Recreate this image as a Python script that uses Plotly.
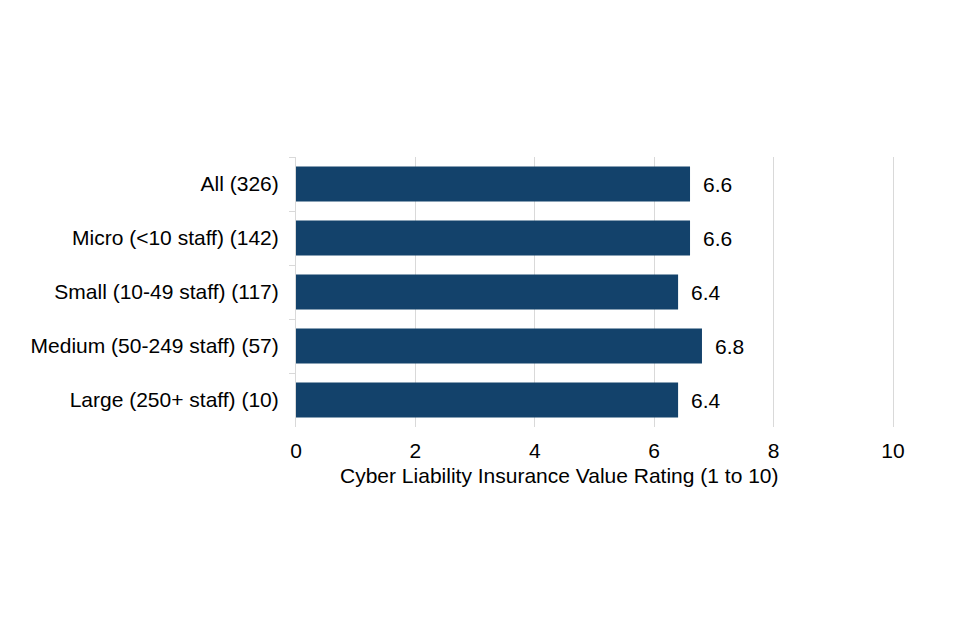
import plotly.graph_objects as go

categories = ["All (326)", "Micro (<10 staff) (142)", "Small (10-49 staff) (117)",
              "Medium (50-249 staff) (57)", "Large (250+ staff) (10)"]
values = [6.6, 6.6, 6.4, 6.8, 6.4]
x_ticks = [0, 2, 4, 6, 8, 10]
x_title = "Cyber Liability Insurance Value Rating (1 to 10)"

FONT = "Liberation Sans, Arial, sans-serif"
FS = 21

W, H = 952, 632
L, T, B = 288, 149, 213
X_MAX = 10.05
PW = 600
R = W - L - PW
PH = H - T - B

fig = go.Figure(go.Bar(
    y=categories, x=values, orientation="h",
    marker=dict(color="#13426B", line=dict(width=0)),
    hoverinfo="x+y",
))

for c, v in zip(categories, values):
    fig.add_annotation(x=v, y=c, xref="x", yref="y", text=f"{v:.1f}",
                       showarrow=False, xanchor="left", yanchor="middle",
                       xshift=11, font=dict(size=FS, color="#000000", family=FONT))

fig.add_annotation(x=(551 - L) / PW, y=-48 / PH, xref="paper", yref="paper", text=x_title,
                   showarrow=False, xanchor="center", yanchor="middle",
                   font=dict(size=FS, color="#000000", family=FONT))

fig.update_layout(
    width=W, height=H,
    margin=dict(l=L, r=R, t=T, b=B, autoexpand=False),
    paper_bgcolor="white", plot_bgcolor="white",
    bargap=0.35,
    font=dict(family=FONT, size=FS, color="#000000"),
    showlegend=False,
    xaxis=dict(range=[0, X_MAX], tickvals=x_ticks, showgrid=True, gridcolor="#d9d9d9",
               gridwidth=1, zeroline=False, showline=False, ticks="",
               tickfont=dict(size=FS), ticklabelstandoff=9, automargin=False),
    yaxis=dict(categoryorder="array", categoryarray=categories, autorange="reversed",
               showline=True, linecolor="#d9d9d9", linewidth=1,
               ticks="outside", tickson="boundaries", ticklen=6, tickcolor="#d9d9d9",
               showgrid=False, tickfont=dict(size=FS), ticklabelstandoff=12,
               automargin=False),
)

fig.write_html("out.html")
